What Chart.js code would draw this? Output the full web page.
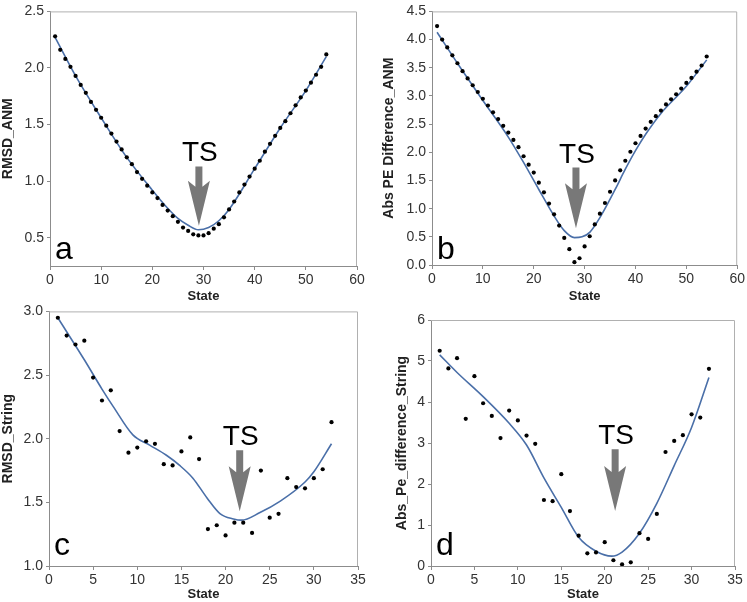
<!DOCTYPE html>
<html>
<head>
<meta charset="utf-8">
<script src="https://cdn.jsdelivr.net/npm/chart.js@4.4.1/dist/chart.umd.min.js"></script>
<style>
  body { margin: 0; background: #fff; width: 747px; height: 602px; position: relative; overflow: hidden; }
  .painel { position: absolute; }
  canvas { display: block; }
</style>
</head>
<body>
<div class="painel" style="left:0;top:0"><canvas id="ga" width="372" height="304"></canvas></div>
<div class="painel" style="left:372px;top:0"><canvas id="gb" width="375" height="304"></canvas></div>
<div class="painel" style="left:0;top:300px"><canvas id="gc" width="372" height="302"></canvas></div>
<div class="painel" style="left:372px;top:300px"><canvas id="gd" width="375" height="302"></canvas></div>
<script>
// estados (eixo x)
const statesAnm = [1,2,3,4,5,6,7,8,9,10,11,12,13,14,15,16,17,18,19,20,21,22,23,24,25,26,27,
  28,29,30,31,32,33,34,35,36,37,38,39,40,41,42,43,44,45,46,47,48,49,50,51,52,53,54];
const statesString = [1,2,3,4,5,6,7,8,9,10,11,12,13,14,15,16,17,18,19,20,21,22,23,24,25,26,
  27,28,29,30,31,32];

// a - RMSD_ANM
const rmsdAnm = [2.28,2.16,2.08,2.01,1.93,1.85,1.78,1.70,1.63,1.56,1.49,1.42,1.35,1.28,1.21,
  1.15,1.08,1.02,0.96,0.90,0.85,0.79,0.74,0.69,0.64,0.59,0.56,0.53,0.52,0.52,0.54,0.58,0.62,
  0.68,0.75,0.82,0.90,0.97,1.04,1.11,1.18,1.26,1.33,1.40,1.47,1.53,1.60,1.67,1.74,1.80,1.87,
  1.94,2.01,2.12];
const fitStateA = [1,5,10,15,20,23,25,27,29,31,33,35,40,45,50,54];
const fitRmsdAnm = [2.27,1.93,1.56,1.21,0.92,0.76,0.67,0.61,0.57,0.59,0.65,0.75,1.11,1.47,1.80,2.10];

// b - Abs PE Difference_ANM
const absPeAnm = [4.24,4.00,3.86,3.72,3.58,3.44,3.31,3.19,3.07,2.95,2.83,2.71,2.59,2.47,2.35,
  2.22,2.09,1.93,1.78,1.64,1.46,1.29,1.09,0.90,0.70,0.48,0.28,0.05,0.12,0.33,0.51,0.72,0.91,
  1.10,1.30,1.50,1.68,1.85,2.01,2.16,2.29,2.42,2.54,2.64,2.74,2.85,2.94,3.03,3.13,3.23,3.32,
  3.43,3.54,3.70];
const fitStateB = [1,5,10,15,18,21,24,26,28,29.5,31,33,36,38,40,42,45,50,54];
const fitAbsPeAnm = [4.13,3.58,2.92,2.27,1.82,1.34,0.87,0.61,0.485,0.50,0.58,0.84,1.34,1.70,2.03,2.32,2.69,3.17,3.64];

// c - RMSD_String
const rmsdString = [2.95,2.81,2.74,2.77,2.48,2.30,2.38,2.06,1.89,1.93,1.98,1.96,1.80,1.79,1.90,
  2.01,1.84,1.29,1.32,1.24,1.34,1.34,1.26,1.75,1.38,1.41,1.69,1.62,1.61,1.69,1.76,2.13];
const fitStateC = [1,4,6,7.3,9.5,11.4,13.3,14.8,16.3,17.9,19.4,20.9,21.8,23.9,26.2,29,30,32];
const fitRmsdString = [2.95,2.62,2.39,2.25,2.03,1.95,1.87,1.79,1.69,1.535,1.41,1.37,1.36,1.42,1.51,1.66,1.74,1.96];

// d - Abs_Pe_difference_String
const absPeString = [5.25,4.82,5.07,3.59,4.63,3.97,3.66,3.12,3.79,3.55,3.18,2.98,1.61,1.58,2.24,
  1.34,0.74,0.31,0.33,0.58,0.14,0.04,0.09,0.80,0.66,1.27,2.78,3.05,3.19,3.70,3.62,4.81];
const fitStateD = [1,3,6,9,11,13,15,17,19,20.8,22,24,26,28,30,32];
const fitAbsPeString = [5.15,4.72,4.13,3.48,2.95,2.15,1.43,0.70,0.36,0.24,0.34,0.80,1.53,2.45,3.38,4.60];

// ticks
const ticksX60 = [0,10,20,30,40,50,60];
const ticksX35 = [0,5,10,15,20,25,30,35];
const ticksYA = [0.5,1.0,1.5,2.0,2.5];
const ticksYB = [0.0,0.5,1.0,1.5,2.0,2.5,3.0,3.5,4.0,4.5];
const ticksYC = [1.0,1.5,2.0,2.5,3.0];
const ticksYD = [0,1,2,3,4,5,6];

// seta TS: [estado, topo da haste, ponta]
const setaA = [29.1, 1.13, 0.605];
const setaB = [28.3, 1.73, 0.65];
const setaC = [21.6, 1.91, 1.43];
const setaD = [21.2, 2.85, 1.34];

const FONTE = "'Liberation Sans', Arial, sans-serif";
const AZUL = "#4a6fa8";

function pares(xs, ys) {
  return xs.map((x, i) => ({ x: x, y: ys[i] }));
}

// moldura, seta TS e letra do painel
const extras = {
  id: "extras",
  beforeDatasetsDraw(chart) {
    const { ctx, chartArea: ca } = chart;
    ctx.save();
    ctx.strokeStyle = "#b0b0b0";
    ctx.lineWidth = 1;
    ctx.beginPath();
    ctx.moveTo(ca.left, ca.top + 0.5);
    ctx.lineTo(ca.right - 0.5, ca.top + 0.5);
    ctx.lineTo(ca.right - 0.5, ca.bottom);
    ctx.stroke();
    ctx.restore();
  },
  afterDatasetsDraw(chart, args, opts) {
    const { ctx, chartArea: ca, scales } = chart;
    const sx = scales.x, sy = scales.y;
    ctx.save();

    // seta
    const cx = sx.getPixelForValue(opts.seta[0]);
    const topo = sy.getPixelForValue(opts.seta[1]);
    const ponta = sy.getPixelForValue(opts.seta[2]);
    const base = ponta - 45;
    ctx.fillStyle = "#787878";
    ctx.beginPath();
    ctx.moveTo(cx - 3.5, topo);
    ctx.lineTo(cx + 3.5, topo);
    ctx.lineTo(cx + 3.5, base + 6);
    ctx.lineTo(cx + 11, base);
    ctx.lineTo(cx, ponta);
    ctx.lineTo(cx - 11, base);
    ctx.lineTo(cx - 3.5, base + 6);
    ctx.closePath();
    ctx.fill();

    ctx.fillStyle = "#000";
    ctx.font = "28px " + FONTE;
    ctx.textAlign = "center";
    ctx.textBaseline = "alphabetic";
    ctx.fillText("TS", cx + 1, topo - 5);

    // letra
    ctx.font = "32px " + FONTE;
    ctx.textAlign = "left";
    ctx.fillText(opts.letra, ca.left + 5, ca.bottom - opts.letraDy);
    ctx.restore();
  }
};

function criarPainel(id, cfg) {
  const eixoFonte = { family: FONTE, size: 14 };
  new Chart(document.getElementById(id), {
    data: {
      datasets: [
        {
          type: "scatter",
          data: pares(cfg.xs, cfg.ys),
          backgroundColor: "#000",
          borderColor: "#000",
          pointRadius: 2.1,
          pointBorderWidth: 0,
          order: 1
        },
        {
          type: "line",
          data: pares(cfg.fitX, cfg.fitY),
          borderColor: AZUL,
          borderWidth: 1.6,
          pointRadius: 0,
          cubicInterpolationMode: "monotone",
          fill: false,
          order: 2
        }
      ]
    },
    options: {
      responsive: false,
      animation: false,
      events: [],
      layout: { padding: { top: cfg.pad[0], right: cfg.pad[1], bottom: 0, left: 0 } },
      plugins: {
        legend: { display: false },
        tooltip: { enabled: false },
        extras: { seta: cfg.seta, letra: cfg.letra, letraDy: cfg.letraDy }
      },
      scales: {
        x: {
          type: "linear",
          min: cfg.xMin, max: cfg.xMax,
          afterBuildTicks: s => { s.ticks = cfg.ticksX.map(v => ({ value: v })); },
          afterFit: s => { s.height = cfg.alturaX; },
          border: { color: "#8c8c8c" },
          grid: { drawOnChartArea: false, tickLength: 4, color: "#8c8c8c" },
          ticks: { font: eixoFonte, color: "#333", padding: 2, maxRotation: 0,
            callback: v => String(v) },
          title: { display: true, text: "State", color: "#222",
            font: { family: FONTE, size: 13, weight: "bold" }, padding: { top: 0, bottom: 0 } }
        },
        y: {
          type: "linear",
          min: cfg.yMin, max: cfg.yMax,
          afterBuildTicks: s => { s.ticks = cfg.ticksY.map(v => ({ value: v })); },
          afterFit: s => { s.width = cfg.larguraY; },
          border: { color: "#8c8c8c" },
          grid: { drawOnChartArea: false, tickLength: 3, color: "#8c8c8c" },
          ticks: { font: eixoFonte, color: "#333", padding: 3,
            callback: v => v.toFixed(cfg.casas) },
          title: { display: true, text: cfg.tituloY, color: "#222",
            font: { family: FONTE, size: 14, weight: "bold" },
            padding: { top: cfg.padTituloY, bottom: 0 } }
        }
      }
    },
    plugins: [extras]
  });
}

criarPainel("ga", {
  xs: statesAnm, ys: rmsdAnm, fitX: fitStateA, fitY: fitRmsdAnm,
  xMin: 0, xMax: 60, ticksX: ticksX60, yMin: 0.25, yMax: 2.5, ticksY: ticksYA, casas: 1,
  tituloY: "RMSD_ANM", padTituloY: 0, pad: [7, 15], larguraY: 50, alturaX: 38,
  seta: setaA, letra: "a", letraDy: 7
});

criarPainel("gb", {
  xs: statesAnm, ys: absPeAnm, fitX: fitStateB, fitY: fitAbsPeAnm,
  xMin: 0, xMax: 60, ticksX: ticksX60, yMin: 0, yMax: 4.5, ticksY: ticksYB, casas: 1,
  tituloY: "Abs PE Difference_ANM", padTituloY: 9, pad: [8, 8], larguraY: 60, alturaX: 39,
  seta: setaB, letra: "b", letraDy: 6
});

criarPainel("gc", {
  xs: statesString, ys: rmsdString, fitX: fitStateC, fitY: fitRmsdString,
  xMin: 0, xMax: 35, ticksX: ticksX35, yMin: 1.0, yMax: 3.0, ticksY: ticksYC, casas: 1,
  tituloY: "RMSD_String", padTituloY: 0, pad: [7, 14], larguraY: 49, alturaX: 36,
  seta: setaC, letra: "c", letraDy: 11
});

criarPainel("gd", {
  xs: statesString, ys: absPeString, fitX: fitStateD, fitY: fitAbsPeString,
  xMin: 0, xMax: 35, ticksX: ticksX35, yMin: 0, yMax: 6, ticksY: ticksYD, casas: 0,
  tituloY: "Abs_Pe_difference_String", padTituloY: 22, pad: [20, 12], larguraY: 59, alturaX: 36,
  seta: setaD, letra: "d", letraDy: 11
});
</script>
</body>
</html>
